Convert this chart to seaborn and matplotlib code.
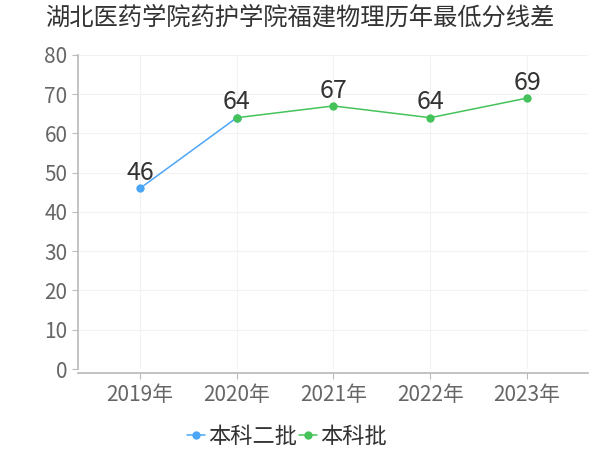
import pandas as pd
import matplotlib
matplotlib.use("Agg")
import matplotlib.pyplot as plt
import seaborn as sns

# Data
years = ["2019年", "2020年", "2021年", "2022年", "2023年"]
batch2_years = ["2019年", "2020年"]
batch2_vals = [46, 64]
batch_years = ["2020年", "2021年", "2022年", "2023年"]
batch_vals = [64, 67, 64, 69]

df = pd.concat([
    pd.DataFrame({"year": batch2_years, "score": batch2_vals, "series": "本科二批"}),
    pd.DataFrame({"year": batch_years, "score": batch_vals, "series": "本科批"}),
])
df["x"] = df["year"].map({y: i for i, y in enumerate(years)})

sns.set_theme(style="white")
plt.rcParams['font.family'] = ['Noto Sans CJK SC', 'DejaVu Sans']

fig = plt.figure(figsize=(6, 4.5), dpi=100)
ax = fig.add_axes([0.13, 0.18, 0.85, 0.698])

palette = {"本科二批": "#4da6f5", "本科批": "#45c35a"}
sns.lineplot(data=df, x="x", y="score", hue="series", palette=palette,
             marker="o", markersize=6, markeredgewidth=0, linewidth=1.1, ax=ax)

# Data labels (one per point position)
labels_df = df.drop_duplicates(subset=["x", "score"], keep="last")
for _, r in labels_df.iterrows():
    ax.text(r["x"], r["score"] + 0.6, f'{r["score"]}', ha="center", va="bottom",
            fontsize=18, color="#333333")

ax.set_xlim(-0.64, 4.63)
ax.set_ylim(0, 80)
ax.set_yticks(range(0, 81, 10))
ax.set_xticks(range(len(years)))
ax.set_xticklabels(years)
ax.set_xlabel("")
ax.set_ylabel("")
ax.grid(True, color="#f2f2f2", linewidth=0.8)
for s in ["top", "right"]:
    ax.spines[s].set_visible(False)
ax.spines["left"].set_color("#bbbbbb")
ax.spines["bottom"].set_color("#bbbbbb")
ax.spines["bottom"].set_position(("outward", 3))
ax.tick_params(axis="both", colors="#bbbbbb", labelcolor="#666666", labelsize=15,
               length=4, width=0.8, direction="out")
ax.tick_params(axis="y", left=True)
ax.tick_params(axis="x", bottom=True)

fig.suptitle("湖北医药学院药护学院福建物理历年最低分线差", x=0.5, y=0.99,
             fontsize=17.5, color="#333333")

handles, labels = ax.get_legend_handles_labels()
ax.legend(handles, labels, loc="upper center", bbox_to_anchor=(0.41, -0.115),
          ncol=2, frameon=False, fontsize=16, handlelength=0.8,
          handletextpad=0.15, columnspacing=0.1, labelcolor="#333333")

fig.savefig("out.png", dpi=100)
